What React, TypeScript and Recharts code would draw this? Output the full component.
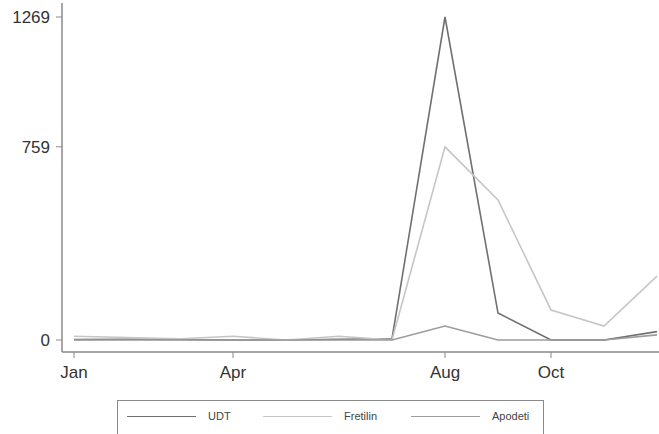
import { LineChart, Line, XAxis, YAxis } from 'recharts';

const months = ['Jan', 'Feb', 'Mar', 'Apr', 'May', 'Jun', 'Jul', 'Aug', 'Sep', 'Oct', 'Nov', 'Dec'];
const udt = [2, 3, 2, 0, 0, 3, 5, 1269, 106, 0, 0, 33];
const fretilin = [15, 10, 5, 15, 0, 15, 0, 759, 550, 118, 55, 251];
const apodeti = [0, 0, 0, 0, 0, 0, 0, 55, 0, 0, 0, 20];

const xTicks = ['Jan', 'Apr', 'Aug', 'Oct'];
const yTicks = [0, 759, 1269];

const series = [
  { key: 'UDT', color: '#707070', legendX: 9 },
  { key: 'Fretilin', color: '#c6c6c6', legendX: 145 },
  { key: 'Apodeti', color: '#9c9c9c', legendX: 293 },
];

const data = months.map((m, i) => ({
  month: m,
  UDT: udt[i],
  Fretilin: fretilin[i],
  Apodeti: apodeti[i],
}));

const font = 'Arial, "Liberation Sans", Helvetica, sans-serif';
const axisColor = '#8a8a8a';

function MonthTick({ x, y, payload }: any) {
  return (
    <text x={x} y={y + 18} textAnchor="middle" fill="#333" fontSize={17} fontFamily={font}>
      {payload.value}
    </text>
  );
}

function ValueTick({ x, y, payload }: any) {
  return (
    <text x={x - 4} y={y + 6} textAnchor="end" fill="#333" fontSize={17} fontFamily={font}>
      {payload.value}
    </text>
  );
}

export default function App() {
  return (
    <div style={{ position: 'absolute', left: 0, top: 0, width: 659, height: 434, background: '#fff', fontFamily: font, overflow: 'hidden' }}>
      <LineChart width={659} height={434} data={data} margin={{ top: 3, right: 0, bottom: 52, left: 0 }}>
        <XAxis
          dataKey="month"
          ticks={xTicks}
          interval={0}
          padding={{ left: 12, right: 2 }}
          height={30}
          stroke={axisColor}
          tickSize={6}
          tick={<MonthTick />}
          axisLine={{ stroke: axisColor, strokeWidth: 1.5 }}
        />
        <YAxis
          type="number"
          domain={[0, 1269]}
          ticks={yTicks}
          interval={0}
          width={62}
          padding={{ top: 14, bottom: 12 }}
          stroke={axisColor}
          tickSize={6}
          tick={<ValueTick />}
          axisLine={{ stroke: axisColor, strokeWidth: 1.5 }}
        />
        {series.map((s) => (
          <Line
            key={s.key}
            type="linear"
            dataKey={s.key}
            stroke={s.color}
            strokeWidth={1.6}
            dot={false}
            isAnimationActive={false}
          />
        ))}
      </LineChart>
      <div
        style={{
          position: 'absolute',
          left: 117,
          top: 400,
          width: 427,
          height: 40,
          border: '1.5px solid #8a8a8a',
          boxSizing: 'border-box',
        }}
      >
        {series.map((s) => (
          <div key={s.key} style={{ position: 'absolute', left: s.legendX, top: 9, display: 'flex', alignItems: 'center' }}>
            <div style={{ width: 69, height: 0, borderTop: `1.6px solid ${s.color}` }} />
            <span style={{ marginLeft: 12, fontSize: 11, color: '#444' }}>{s.key}</span>
          </div>
        ))}
      </div>
    </div>
  );
}
